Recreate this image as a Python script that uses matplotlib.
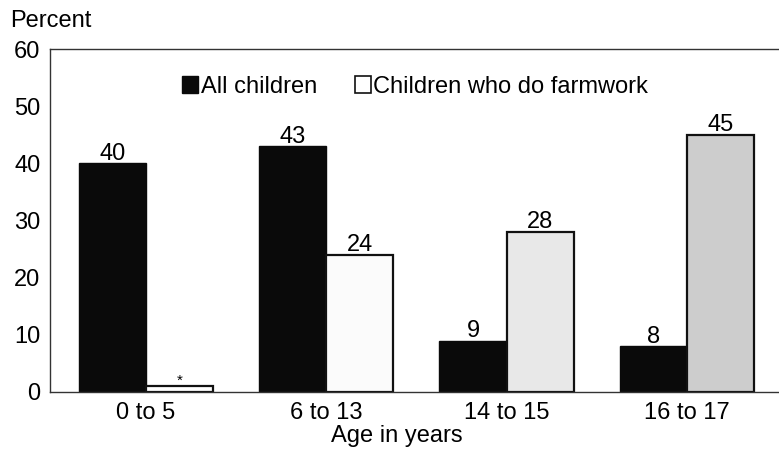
import matplotlib
matplotlib.use("Agg")
import matplotlib.pyplot as plt
import numpy as np
from matplotlib.patches import Patch

plt.rcParams['font.family'] = ['Liberation Sans', 'DejaVu Sans']

# dati
age_groups = ['0 to 5', '6 to 13', '14 to 15', '16 to 17']
all_children = [40, 43, 9, 8]
farmwork = [1, 24, 28, 45]
farmwork_labels = ['*', '24', '28', '45']
farmwork_colors = ['#ffffff', '#fbfbfb', '#e8e8e8', '#cdcdcd']
y_ticks = [0, 10, 20, 30, 40, 50, 60]

fig = plt.figure(figsize=(7.79, 4.5), dpi=100)
ax = fig.add_axes([0.0642, 0.1289, 0.9358, 0.7622])

x = np.arange(len(age_groups))
w = 0.372

b1 = ax.bar(x - w / 2, all_children, width=w, color='#0a0a0a',
            edgecolor='#0a0a0a', linewidth=1)
b2 = ax.bar(x + w / 2, farmwork, width=w, color=farmwork_colors,
            edgecolor='#111111', linewidth=1.6)

ax.bar_label(b1, labels=[str(v) for v in all_children], fontsize=17, padding=-1)
lbls = ax.bar_label(b2, labels=farmwork_labels, fontsize=17, padding=-1)
lbls[0].set_fontsize(11)

ax.set_xlim(-0.532, 3.511)
ax.set_ylim(0, 60)
ax.set_yticks(y_ticks)
ax.set_xticks(x)
ax.set_xticklabels(age_groups)
ax.tick_params(axis='both', length=0, labelsize=17)
ax.tick_params(axis='y', pad=7)
ax.tick_params(axis='x', pad=7)

for s in ['top', 'left', 'bottom']:
    ax.spines[s].set_color('#333333')
    ax.spines[s].set_linewidth(1.0)
ax.spines['right'].set_visible(False)

ax.set_xlabel('Age in years', fontsize=17, va='top')
ax.xaxis.set_label_coords((397 - 50) / 729, -0.095)

fig.text(10 / 779, 1 - 21 / 450, 'Percent', fontsize=17, va='center', ha='left')

handles = [Patch(facecolor='#0a0a0a', edgecolor='#0a0a0a'),
           Patch(facecolor='white', edgecolor='#111111', linewidth=1.2)]
ax.legend(handles, ['All children', 'Children who do farmwork'],
          loc='center', bbox_to_anchor=(415 / 779, 1 - 87 / 450),
          bbox_transform=fig.transFigure, ncol=2, frameon=False,
          fontsize=17, handlelength=0.7, handleheight=0.7,
          handletextpad=0.1, columnspacing=1.6, borderpad=0)

plt.savefig('out.png', dpi=100)
